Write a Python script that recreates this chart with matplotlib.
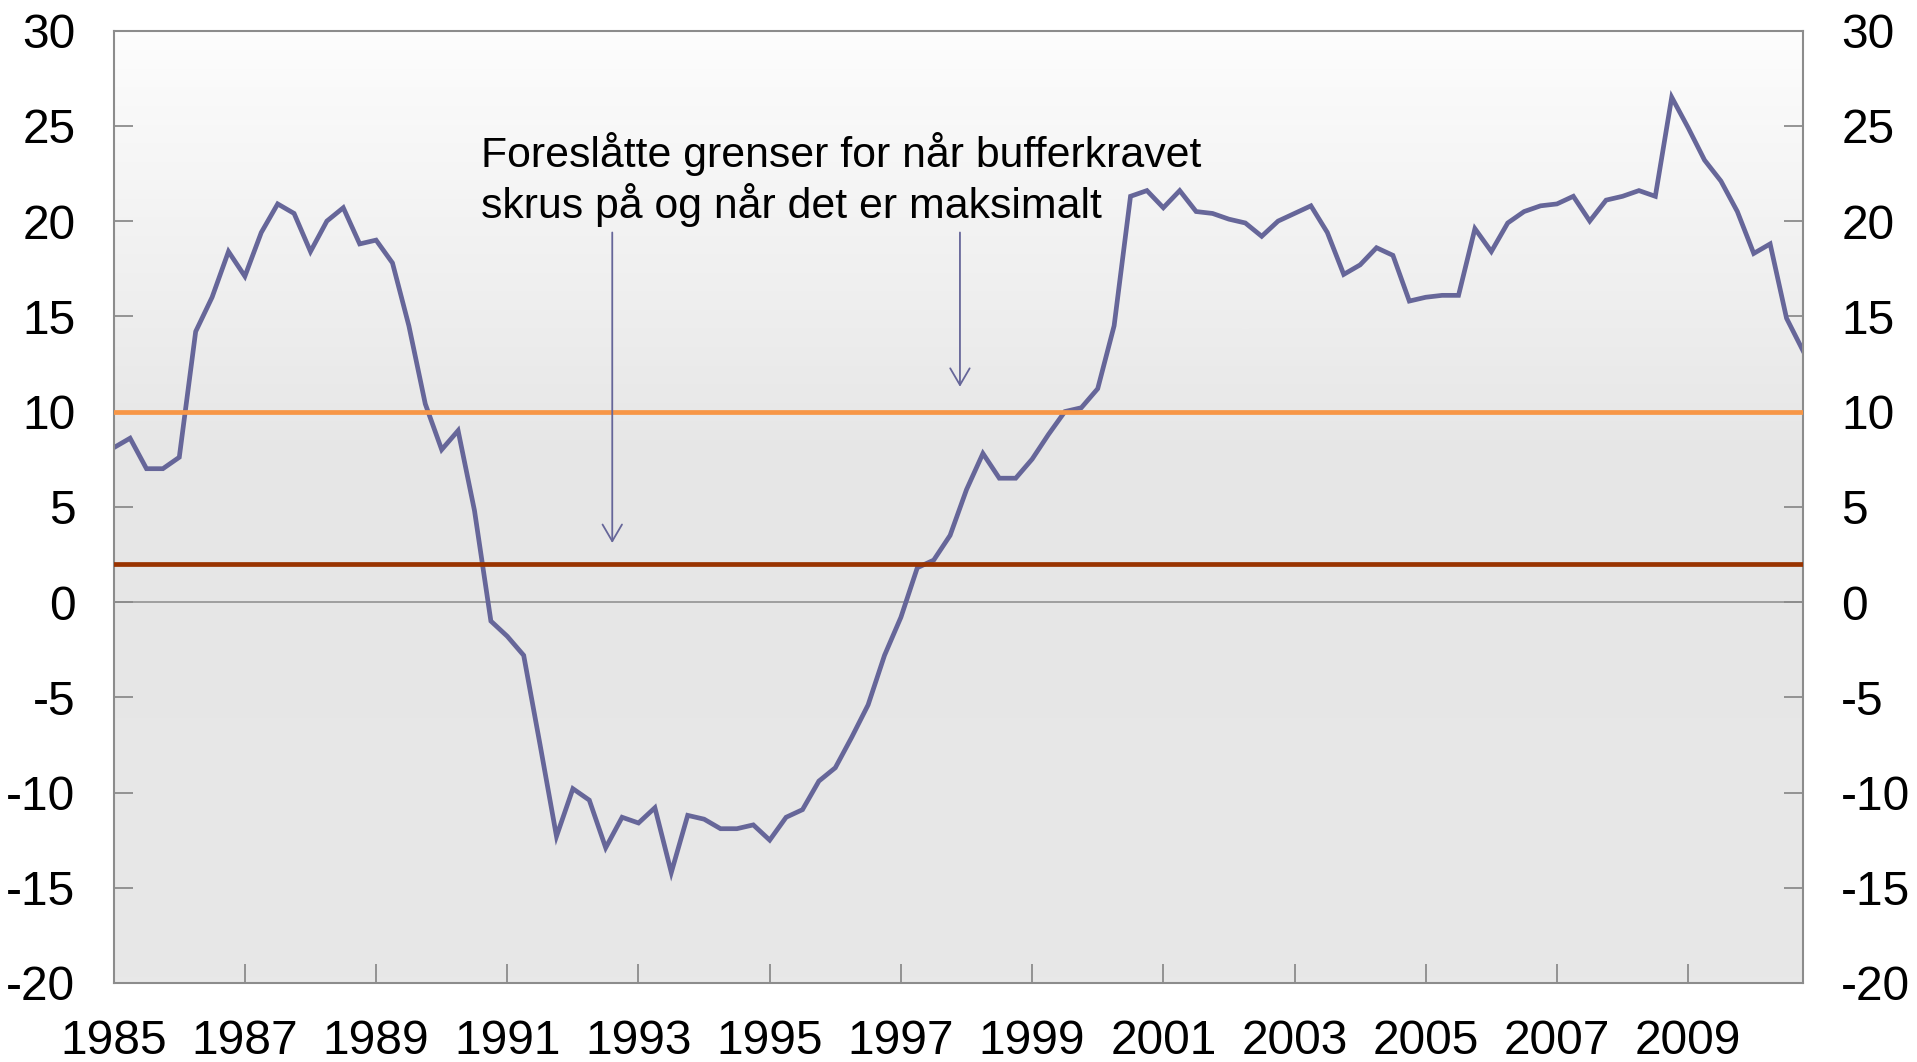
import numpy as np
import matplotlib
matplotlib.use("Agg")
import matplotlib.pyplot as plt
from matplotlib.colors import LinearSegmentedColormap

plt.rcParams["font.family"] = ["Liberation Sans", "DejaVu Sans"]
plt.rcParams["axes.unicode_minus"] = False

# =========================
# DATA (kvartalsvis, 1985K1 - 2010K4)
# =========================
start_year = 1985
quarters = 104
gap = [
    8.1, 8.6, 7.0, 7.0, 7.6, 14.2, 16.0, 18.4,
    17.1, 19.4, 20.9, 20.4, 18.4, 20.0, 20.7, 18.8,
    19.0, 17.8, 14.5, 10.4, 8.0, 9.0, 4.8, -1.0,
    -1.8, -2.8, -7.5, -12.3, -9.8, -10.4, -12.9, -11.3,
    -11.6, -10.8, -14.2, -11.2, -11.4, -11.9, -11.9, -11.7,
    -12.5, -11.3, -10.9, -9.4, -8.7, -7.1, -5.4, -2.8,
    -0.8, 1.8, 2.2, 3.5, 5.9, 7.8, 6.5, 6.5,
    7.5, 8.8, 10.0, 10.2, 11.2, 14.5, 21.3, 21.6,
    20.7, 21.6, 20.5, 20.4, 20.1, 19.9, 19.2, 20.0,
    20.4, 20.8, 19.4, 17.2, 17.7, 18.6, 18.2, 15.8,
    16.0, 16.1, 16.1, 19.6, 18.4, 19.9, 20.5, 20.8,
    20.9, 21.3, 20.0, 21.1, 21.3, 21.6, 21.3, 26.5,
    24.9, 23.2, 22.1, 20.5, 18.3, 18.8, 14.9, 13.2,
]
lower_limit = 2
upper_limit = 10

x_tick_labels = [str(y) for y in range(1985, 2011, 2)]
y_ticks = list(range(-20, 31, 5))

annotation = "Foreslåtte grenser for når bufferkravet\nskrus på og når det er maksimalt"
# (x, y) for pilstart og pilspiss, x i kvartal fra 1985K1
arrow_lower = [(30.4, 19.4), (30.4, 3.1)]
arrow_upper = [(51.6, 19.4), (51.6, 11.3)]

LINE_COLOR = "#666699"
ORANGE = "#F79646"
DARK_RED = "#993300"
GRID_GRAY = "#8C8C8C"

# =========================
# PLOT
# =========================
fig = plt.figure(figsize=(19.17, 10.62), dpi=100)
ax = fig.add_axes([0.0593, 0.0744, 0.8812, 0.8968])

# bakgrunn med gradient (lys øverst, grå nederst)
bg_cmap = LinearSegmentedColormap.from_list(
    "bg", [(0.0, "#FDFDFD"), (0.45, "#E6E6E6"), (1.0, "#E8E8E8")]
)
grad = np.linspace(0, 1, 256).reshape(-1, 1)
ax.imshow(grad, cmap=bg_cmap, aspect="auto", extent=[0, 1, 0, 1],
          transform=ax.transAxes, zorder=0, interpolation="bilinear")

x = np.arange(quarters)
ax.axhline(0, color="#999999", linewidth=1.3, zorder=1)
ax.plot(x, gap, color=LINE_COLOR, linewidth=3.4, zorder=2, solid_joinstyle="miter")
ax.axhline(upper_limit, color=ORANGE, linewidth=3.4, zorder=3)
ax.axhline(lower_limit, color=DARK_RED, linewidth=3.4, zorder=3)

for (x0, y0), (x1, y1) in [arrow_lower, arrow_upper]:
    ax.annotate("", xy=(x1, y1), xytext=(x0, y0),
                arrowprops=dict(arrowstyle="->,head_length=0.6,head_width=0.35",
                                color=LINE_COLOR, linewidth=1.3, mutation_scale=20,
                                shrinkA=0, shrinkB=0),
                zorder=4)

ax.text(22.4, 24.65, annotation, fontsize=30.8, va="top", ha="left",
        linespacing=1.2, zorder=5)

ax.set_xlim(0, quarters - 1)
ax.set_ylim(-20, 30)
ax.set_xticks(np.arange(0, quarters, 8))
ax.set_xticklabels(x_tick_labels)
ax.set_yticks(y_ticks)
ax.set_yticklabels([str(v) for v in y_ticks])

ax.tick_params(axis="x", direction="in", length=14, width=1.3, color=GRID_GRAY,
               labelsize=34.5, pad=26)
ax.tick_params(axis="y", direction="in", length=14, width=1.3, color=GRID_GRAY,
               labelsize=34.5, pad=27.5, left=True, right=True,
               labelleft=True, labelright=True)

for spine in ax.spines.values():
    spine.set_color(GRID_GRAY)
    spine.set_linewidth(1.5)

fig.savefig("out.png", dpi=100)
